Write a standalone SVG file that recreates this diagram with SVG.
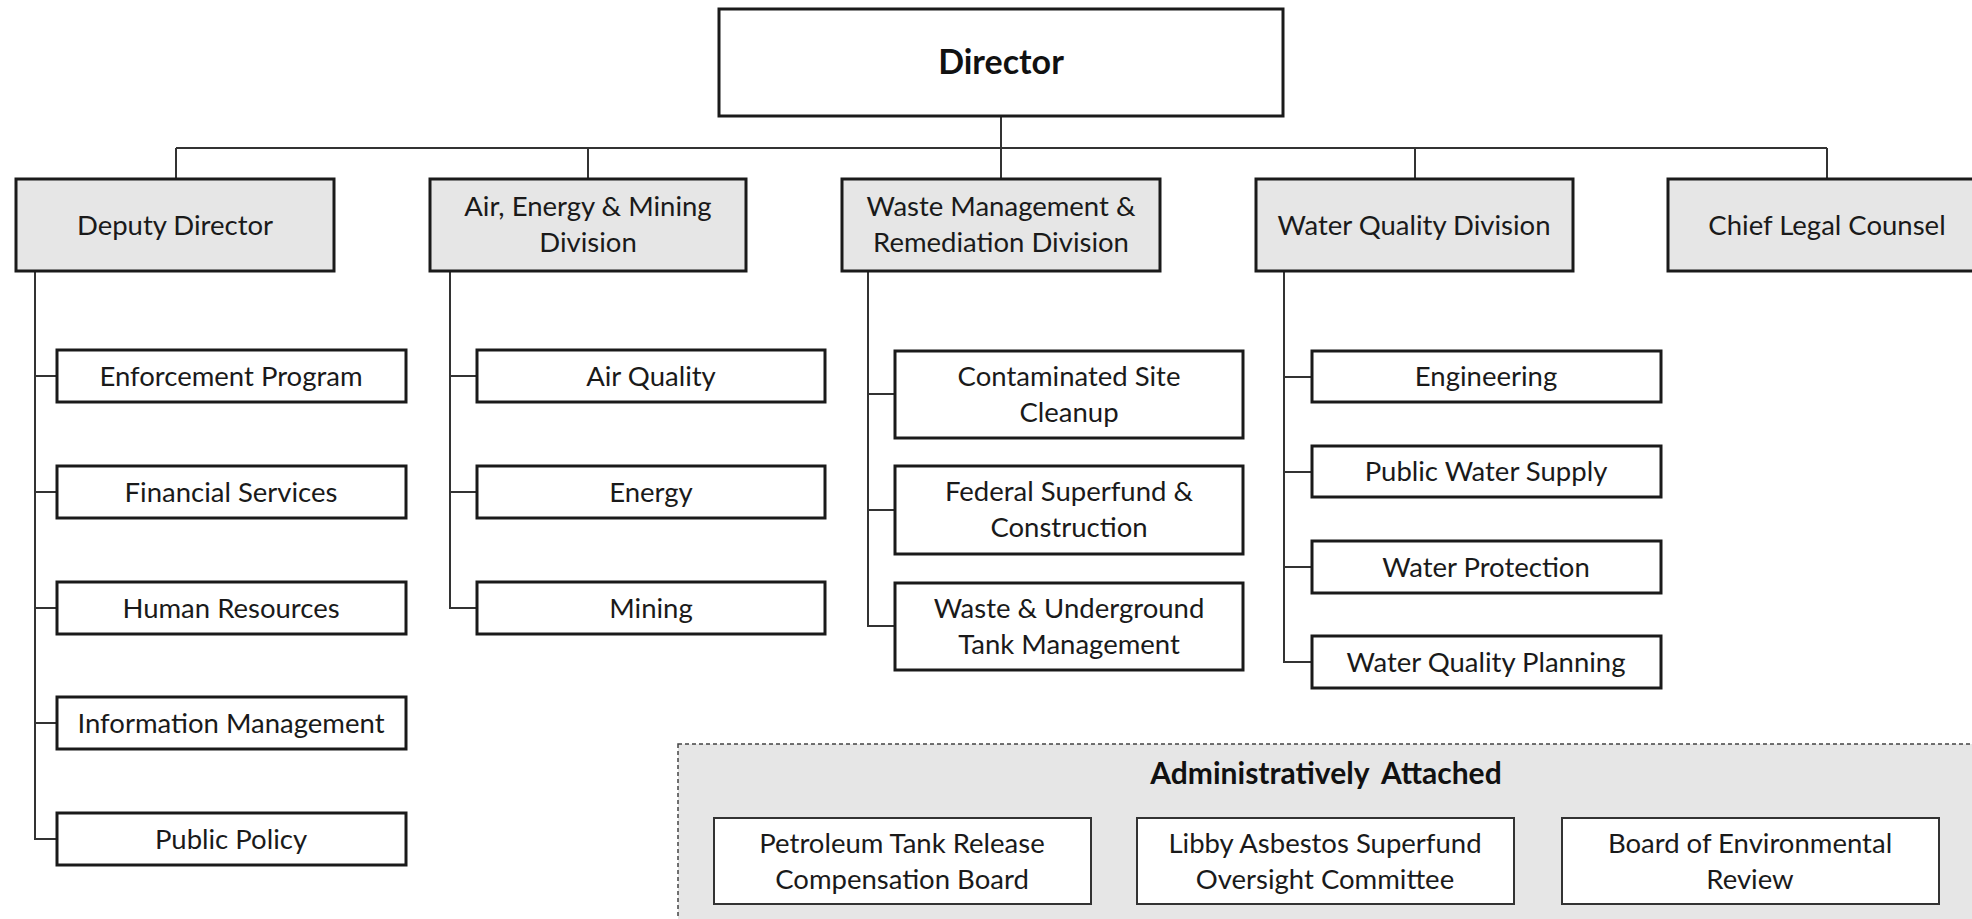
<svg xmlns="http://www.w3.org/2000/svg" width="1972" height="919" viewBox="0 0 1972 919">
<style>
.bg{fill:#ffffff}
.top{fill:#ffffff;stroke:#1a1a1a;stroke-width:3}
.div{fill:#e6e6e6;stroke:#1a1a1a;stroke-width:3}
.sub{fill:#ffffff;stroke:#1a1a1a;stroke-width:3}
.adm{fill:#ffffff;stroke:#333333;stroke-width:2}
.panel{fill:#e6e6e6;stroke:#444444;stroke-width:1.5;stroke-dasharray:4 3}
.t{font-family:Lato,"Liberation Sans",sans-serif;font-size:27.5px;fill:#1a1a1a;text-anchor:middle}
.b{font-family:Lato,"Liberation Sans",sans-serif;font-weight:bold;fill:#111111;text-anchor:middle}
.c{fill:none;stroke:#333333;stroke-width:2}
</style>
<rect class="bg" x="0" y="0" width="1972" height="919"/>

<g id="connectors">
<path class="c" d="M1001 116V148M176 148H1827M176 148V179M588 148V179M1001 148V179M1415 148V179M1827 148V179"/>
<path class="c" d="M35 271V839H57M35 376H57M35 492H57M35 608H57M35 723H57"/>
<path class="c" d="M450 271V608H477M450 376H477M450 492H477"/>
<path class="c" d="M868 271V626H895M868 394H895M868 510H895"/>
<path class="c" d="M1284 271V662H1312M1284 377H1312M1284 472H1312M1284 567H1312"/>
</g>

<g id="director">
<rect class="top" x="719" y="9" width="564" height="107"/>
<text class="b" x="1001" y="74" font-size="34">Director</text>
</g>

<g id="deputy-director">
<rect class="div" x="16" y="179" width="318" height="92"/>
<text class="t" x="175" y="235">Deputy Director</text>
</g>
<g id="air-energy-mining">
<rect class="div" x="430" y="179" width="316" height="92"/>
<text class="t" x="588" y="216">Air, Energy &amp; Mining</text>
<text class="t" x="588" y="252">Division</text>
</g>
<g id="waste-management">
<rect class="div" x="842" y="179" width="318" height="92"/>
<text class="t" x="1001" y="216">Waste Management &amp;</text>
<text class="t" x="1001" y="252">Remediation Division</text>
</g>
<g id="water-quality">
<rect class="div" x="1256" y="179" width="317" height="92"/>
<text class="t" x="1414" y="235">Water Quality Division</text>
</g>
<g id="chief-legal">
<rect class="div" x="1668" y="179" width="320" height="92"/>
<text class="t" x="1827" y="235">Chief Legal Counsel</text>
</g>

<g id="enforcement"><rect class="sub" x="57" y="350" width="349" height="52"/><text class="t" x="231" y="386">Enforcement Program</text></g>
<g id="financial"><rect class="sub" x="57" y="466" width="349" height="52"/><text class="t" x="231" y="502">Financial Services</text></g>
<g id="human-resources"><rect class="sub" x="57" y="582" width="349" height="52"/><text class="t" x="231" y="618">Human Resources</text></g>
<g id="information"><rect class="sub" x="57" y="697" width="349" height="52"/><text class="t" x="231" y="733">Information Management</text></g>
<g id="public-policy"><rect class="sub" x="57" y="813" width="349" height="52"/><text class="t" x="231" y="849">Public Policy</text></g>

<g id="air-quality"><rect class="sub" x="477" y="350" width="348" height="52"/><text class="t" x="651" y="386">Air Quality</text></g>
<g id="energy"><rect class="sub" x="477" y="466" width="348" height="52"/><text class="t" x="651" y="502">Energy</text></g>
<g id="mining"><rect class="sub" x="477" y="582" width="348" height="52"/><text class="t" x="651" y="618">Mining</text></g>

<g id="contaminated"><rect class="sub" x="895" y="351" width="348" height="87"/><text class="t" x="1069" y="386">Contaminated Site</text><text class="t" x="1069" y="422">Cleanup</text></g>
<g id="federal"><rect class="sub" x="895" y="466" width="348" height="88"/><text class="t" x="1069" y="501">Federal Superfund &amp;</text><text class="t" x="1069" y="537">Construction</text></g>
<g id="waste-ug"><rect class="sub" x="895" y="583" width="348" height="87"/><text class="t" x="1069" y="618">Waste &amp; Underground</text><text class="t" x="1069" y="654">Tank Management</text></g>

<g id="engineering"><rect class="sub" x="1312" y="351" width="349" height="51"/><text class="t" x="1486" y="386">Engineering</text></g>
<g id="public-water"><rect class="sub" x="1312" y="446" width="349" height="51"/><text class="t" x="1486" y="481">Public Water Supply</text></g>
<g id="water-protection"><rect class="sub" x="1312" y="541" width="349" height="52"/><text class="t" x="1486" y="577">Water Protection</text></g>
<g id="water-planning"><rect class="sub" x="1312" y="636" width="349" height="52"/><text class="t" x="1486" y="672">Water Quality Planning</text></g>

<g id="administratively-attached">
<rect class="panel" x="678" y="744" width="1310" height="190"/>
<text class="b" x="1326" y="784" font-size="30" word-spacing="6">Administratively Attached</text>
</g>
<g id="petroleum"><rect class="adm" x="714" y="818" width="377" height="86"/><text class="t" x="902" y="853">Petroleum Tank Release</text><text class="t" x="902" y="889">Compensation Board</text></g>
<g id="libby"><rect class="adm" x="1137" y="818" width="377" height="86"/><text class="t" x="1325" y="853">Libby Asbestos Superfund</text><text class="t" x="1325" y="889">Oversight Committee</text></g>
<g id="board"><rect class="adm" x="1562" y="818" width="377" height="86"/><text class="t" x="1750" y="853">Board of Environmental</text><text class="t" x="1750" y="889">Review</text></g>
</svg>
